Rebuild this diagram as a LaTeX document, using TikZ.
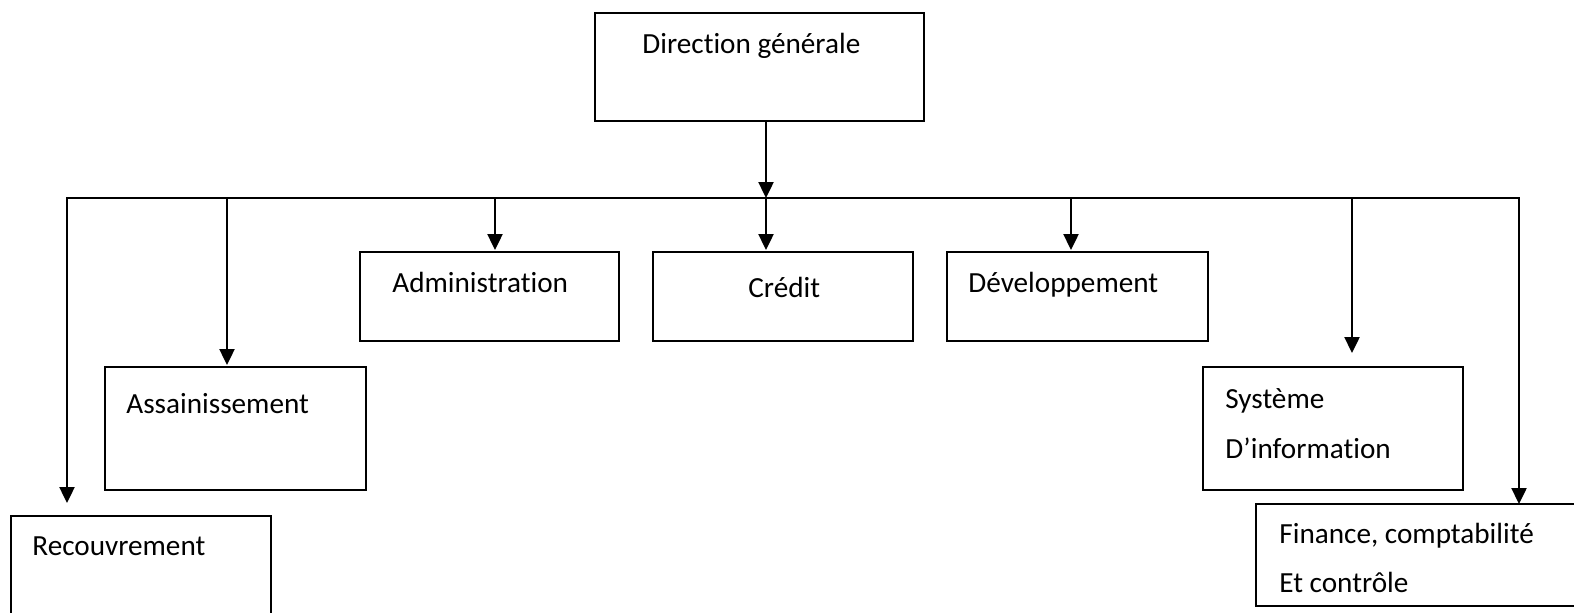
\documentclass[tikz,border=0pt]{standalone}
\usepackage{fontspec}
\setmainfont{Carlito}[Ligatures=NoCommon]
\usetikzlibrary{arrows.meta}
\begin{document}
\begin{tikzpicture}[x=0.5pt,y=-0.5pt,
  unit box/.style={draw,line width=1.1pt,anchor=north west,inner sep=0pt,outer sep=0pt},
  lbl/.style={anchor=base west,inner sep=0pt,font=\fontsize{14.6}{17}\selectfont},
  link/.style={line width=1.2pt},
  arrowlink/.style={line width=1.2pt,-{Triangle[length=8pt,width=7.5pt]}}]
\useasboundingbox (0,0) rectangle (1574,612);
\clip (0,0) rectangle (1574,612);

% boxes (width and height in pt = half the pixel size)
\node[unit box,minimum width=164.5pt,minimum height=54pt] (dg)  at (595,13)  {};
\node[unit box,minimum width=129.5pt,minimum height=44.5pt] (adm) at (360,252) {};
\node[unit box,minimum width=130pt,minimum height=44.5pt] (cre) at (653,252) {};
\node[unit box,minimum width=130.5pt,minimum height=44.5pt] (dev) at (947,252) {};
\node[unit box,minimum width=130.5pt,minimum height=61.5pt] (ass) at (105,367) {};
\node[unit box,minimum width=130pt,minimum height=61.5pt] (sys) at (1203,367) {};
\node[unit box,minimum width=130pt,minimum height=60pt] (rec) at (11,516) {};
\node[unit box,minimum width=165pt,minimum height=51pt] (fin) at (1256,504) {};

% labels
\node[lbl] (tdg)  at (642,53)  {Direction générale};
\node[lbl] (tadm) at (392,292) {Administration};
\node[lbl] (tcre) at (748,297) {Crédit};
\node[lbl] (tdev) at (968,292) {Développement};
\node[lbl] (tass) at (126,413) {Assainissement};
\node[lbl] (trec) at (32,555)  {Recouvrement};
\node[lbl] (tsys1) at (1225,408) {Système};
\node[lbl] (tsys2) at (1225,458) {D’information};
\node[lbl] (tfin1) at (1279,543) {Finance, comptabilité};
\node[lbl] (tfin2) at (1279,592) {Et contrôle};

% junctions on the distribution line
\coordinate (jrec) at (67,198);
\coordinate (jass) at (227,198);
\coordinate (jadm) at (495,198);
\coordinate (jmid) at (766,198);
\coordinate (jdev) at (1071,198);
\coordinate (jsys) at (1352,198);
\coordinate (jfin) at (1519,198);

% distribution line
\draw[link,line cap=rect] (jrec) -- (jfin);

% arrows
\draw[arrowlink] (dg.south -| jmid) -- (jmid);
\draw[arrowlink,shorten >=6.5pt] (jrec) -- (jrec |- rec.north);
\draw[arrowlink,shorten >=1pt] (jass) -- (jass |- ass.north);
\draw[arrowlink,shorten >=1pt] (jadm) -- (jadm |- adm.north);
\draw[arrowlink,shorten >=1pt] (jmid) -- (jmid |- cre.north);
\draw[arrowlink,shorten >=1pt] (jdev) -- (jdev |- dev.north);
\draw[arrowlink,shorten >=7pt] (jsys) -- (jsys |- sys.north);
\draw[arrowlink] (jfin) -- (jfin |- fin.north);
\end{tikzpicture}
\end{document}
